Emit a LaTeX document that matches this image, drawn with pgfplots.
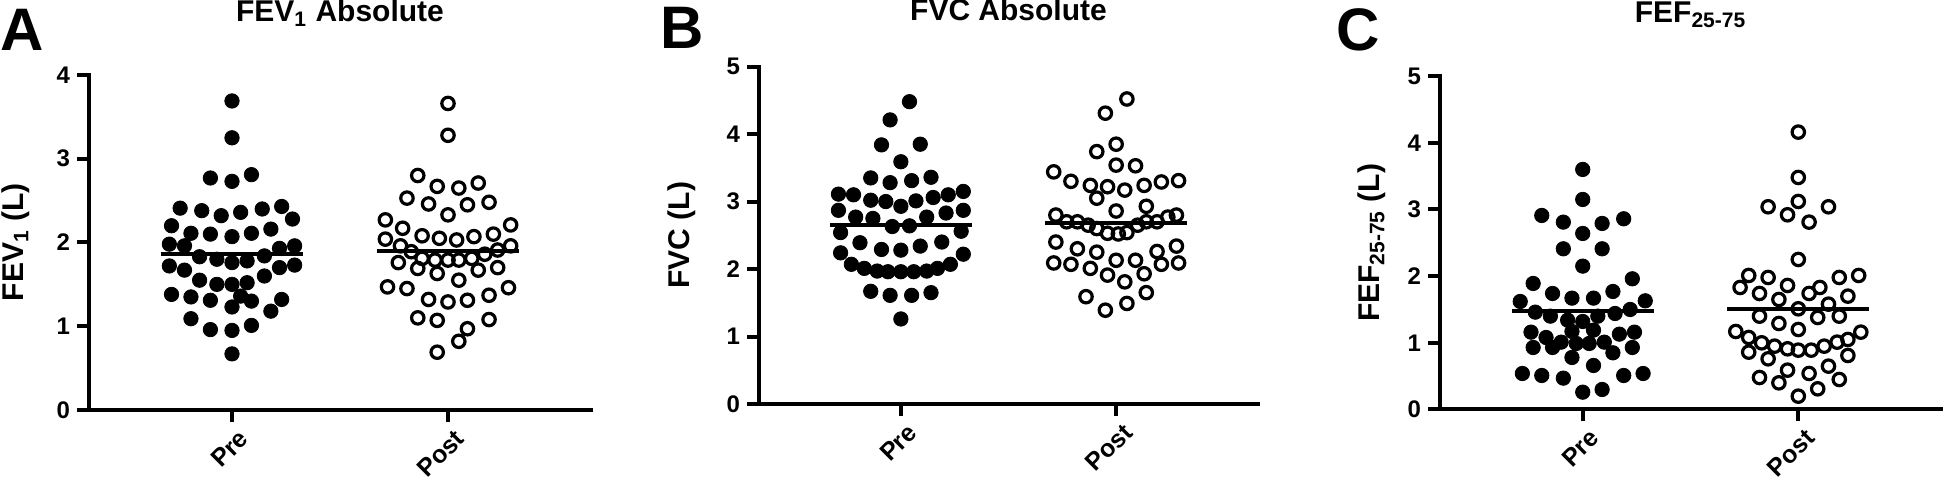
\documentclass[border=0pt]{standalone}
\usepackage{fontspec}
\setmainfont{Liberation Sans}
\usepackage{pgfplots}
\pgfplotsset{compat=1.18}
\newcommand{\fs}[1]{\bfseries\fontsize{#1}{#1}\selectfont}
\pgfplotsset{
  panel/.style={
    scale only axis, clip=false,
    axis x line*=bottom, axis y line*=left,
    axis line style={line width=2pt, line cap=rect},
    tick style={line width=2pt, black},
    major tick length=6pt, tick align=outside,
    xtick={0,1}, xticklabels={Pre,Post},
    /pgf/number format/assume math mode=true,
    x tick label style={rotate=45, anchor=north east, inner sep=1pt, yshift=-3pt, xshift=1pt, font=\fs{12.5}},
    y tick label style={font=\fs{12}},
    title style={font=\fs{15}, at={(axis description cs:0.5,1)}, anchor=base, inner sep=0pt},
    ylabel style={font=\fs{15}, anchor=center},
    ymin=0,
  },
  pre/.style={only marks, mark=*, mark size=3.6pt, black, mark options={line width=0.4pt, fill=black}},
  post/.style={only marks, mark=o, mark size=3.1pt, black, mark options={line width=1.6pt, fill=white}},
  mean/.style={no marks, line width=2pt, black},
}
\begin{document}
\begin{tikzpicture}
\path[use as bounding box] (0pt,0pt) rectangle (973pt,242.5pt);
\node[anchor=base west, font=\fs{30}, inner sep=0pt] at (0pt,217pt) {A};
\node[anchor=base west, font=\fs{30}, inner sep=0pt] at (330pt,218pt) {B};
\node[anchor=base west, font=\fs{30}, inner sep=0pt] at (668pt,217pt) {C};

% ---------------- Panel A
\begin{axis}[panel, at={(44.5pt,37.5pt)}, anchor=south west,
  width=251pt, height=167.5pt, xmin=-0.662, xmax=1.662, ymax=4, ytick={0,1,2,3,4},
  title={FEV\textsubscript{1} Absolute}, title style={yshift=20.5pt},
  ylabel={FEV\textsubscript{1} (L)}, ylabel style={at={(axis description cs:-0.145,0.5)}}]
\addplot[pre] coordinates {
(0,3.69) (0,3.25)
(-0.10,2.77) (0,2.73) (0.09,2.81)
(-0.24,2.41) (-0.14,2.38) (-0.05,2.32) (0.04,2.36) (0.14,2.40) (0.23,2.43)
(-0.28,2.20) (0.28,2.28)
(-0.19,2.11) (-0.10,2.10) (0,2.07) (0.09,2.11) (0.18,2.16)
(-0.29,1.98) (-0.22,1.96) (0.22,1.93) (0.29,1.96)
(-0.15,1.83) (-0.07,1.80) (0,1.76) (0.07,1.78) (0.15,1.84)
(-0.29,1.72) (-0.22,1.67) (0.22,1.70) (0.29,1.73)
(-0.15,1.55) (-0.07,1.50) (0,1.50) (0.07,1.52) (0.15,1.60)
(-0.28,1.38) (-0.19,1.35) (-0.10,1.31) (0.04,1.36) (0.09,1.30) (0,1.23) (0.18,1.18) (0.23,1.32)
(-0.19,1.09) (-0.10,0.96) (0,0.95) (0.09,1.01)
(0,0.67)
};
\addplot[post] coordinates {
(1,3.66) (1,3.28)
(0.86,2.80) (0.95,2.67) (1.05,2.65) (1.14,2.71)
(0.81,2.53) (0.91,2.46) (1.09,2.45) (1.19,2.48)
(1,2.33)
(0.71,2.27) (1.29,2.21)
(0.79,2.17) (0.88,2.08) (0.96,2.05) (1.04,2.03) (1.12,2.07) (1.21,2.10)
(0.71,2.04) (0.78,1.96) (0.83,1.89) (1.17,1.86) (1.23,1.91) (1.29,1.96)
(0.88,1.81) (0.94,1.79) (1,1.79) (1.05,1.79) (1.11,1.81)
(0.77,1.76) (0.86,1.69) (0.95,1.63) (1.05,1.55) (1.14,1.67) (1.23,1.70)
(0.72,1.47) (0.81,1.45) (1.28,1.46)
(0.91,1.32) (1,1.29) (1.09,1.31) (1.19,1.37)
(0.86,1.10) (0.95,1.07) (1.19,1.08)
(1.09,0.97) (1.05,0.82) (0.95,0.69)
};
\addplot[mean] coordinates {(-0.33,1.86) (0.33,1.86)};
\addplot[mean] coordinates {(0.67,1.90) (1.33,1.90)};
\end{axis}

% ---------------- Panel B
\begin{axis}[panel, at={(379.5pt,40.5pt)}, anchor=south west,
  width=249.5pt, height=168.7pt, xmin=-0.659, xmax=1.659, ymax=5, ytick={0,1,2,3,4,5},
  title={FVC Absolute}, title style={yshift=16.8pt},
  ylabel={FVC (L)}, ylabel style={at={(axis description cs:-0.154,0.5)}}]
\addplot[pre] coordinates {
(0.04,4.48) (-0.05,4.21)
(-0.09,3.84) (0.09,3.85)
(0,3.59)
(-0.14,3.35) (-0.05,3.28) (0.05,3.31) (0.14,3.36)
(-0.29,3.11) (-0.22,3.10) (-0.14,3.02) (-0.07,3.00) (0,2.93) (0.07,3.01) (0.15,3.06) (0.22,3.10) (0.29,3.15)
(-0.29,2.87) (0.29,2.87) (-0.21,2.77) (-0.13,2.75) (0.12,2.77) (0.21,2.83)
(-0.04,2.63) (0.04,2.64)
(-0.28,2.54) (0.28,2.56)
(-0.19,2.39) (-0.09,2.29) (0,2.28) (0.09,2.34) (0.19,2.40)
(-0.28,2.24) (0.29,2.22)
(-0.23,2.07) (-0.17,2.01) (-0.11,1.97) (-0.06,1.96) (0,1.96) (0.06,1.96) (0.12,1.97) (0.17,2.01) (0.23,2.07)
(-0.14,1.67) (-0.05,1.61) (0.05,1.61) (0.14,1.65)
(0,1.26)
};
\addplot[post] coordinates {
(1.05,4.52) (0.95,4.31)
(1,3.85) (0.91,3.74)
(1,3.54) (1.09,3.53)
(0.71,3.44)
(0.79,3.30) (0.88,3.24) (0.96,3.22) (1.04,3.17) (1.13,3.24) (1.21,3.29) (1.29,3.31)
(0.91,3.05)
(1,2.86) (1.14,2.93)
(0.72,2.80) (1.28,2.80) (1.24,2.77)
(0.77,2.70) (0.82,2.70) (0.87,2.65) (0.91,2.60) (0.96,2.53) (1.01,2.52) (1.05,2.54) (1.10,2.65) (1.14,2.70) (1.19,2.70)
(0.72,2.40) (0.82,2.30) (0.91,2.25) (1,2.13) (1.09,2.13) (1.19,2.26) (1.28,2.34)
(0.71,2.09) (0.79,2.07) (0.88,2.01) (1.21,2.07) (1.29,2.09)
(0.96,1.91) (1.04,1.81) (1.13,1.93)
(0.86,1.59) (1.14,1.65)
(1.05,1.49) (0.95,1.39)
};
\addplot[mean] coordinates {(-0.33,2.66) (0.33,2.66)};
\addplot[mean] coordinates {(0.67,2.68) (1.33,2.68)};
\end{axis}

% ---------------- Panel C
\begin{axis}[panel, at={(720pt,37.75pt)}, anchor=south west,
  width=250.5pt, height=166.7pt, xmin=-0.662, xmax=1.662, ymax=5, ytick={0,1,2,3,4,5},
  title={FEF\textsubscript{25-75}}, title style={yshift=20.9pt},
  ylabel={FEF\textsubscript{25-75} (L)}, ylabel style={at={(axis description cs:-0.136,0.5)}}]
\addplot[pre] coordinates {
(0,3.60) (0,3.15)
(-0.19,2.91) (-0.09,2.81) (0.09,2.79) (0.19,2.86)
(0,2.64)
(-0.09,2.41) (0.09,2.41)
(0,2.15)
(-0.23,1.89) (0.23,1.96)
(-0.14,1.74) (-0.05,1.67) (0.05,1.67) (0.14,1.77)
(-0.29,1.62) (0.29,1.63)
(-0.22,1.46) (-0.15,1.40) (-0.07,1.34) (0,1.32) (0.07,1.40) (0.15,1.44) (0.22,1.50)
(-0.24,1.16) (-0.17,1.08) (-0.05,1.17) (0.05,1.19) (0.17,1.13) (0.24,1.16)
(-0.23,0.93) (-0.14,0.93) (-0.10,1.01) (-0.03,0.99) (0.03,0.99) (0.10,1.01) (0.14,0.85) (0.23,0.93)
(-0.05,0.78) (0.05,0.66)
(-0.28,0.54) (-0.19,0.51) (-0.09,0.47) (0.19,0.51) (0.28,0.54)
(0,0.26) (0.09,0.30)
};
\addplot[post] coordinates {
(1,4.16)
(1,3.48)
(0.86,3.04) (1,3.12) (0.95,2.92) (1.05,2.81) (1.14,3.04)
(1,2.25)
(0.77,2.01) (0.86,1.98) (1.19,1.98) (1.28,2.01)
(0.73,1.83) (0.82,1.74) (0.95,1.86) (1.05,1.74) (1.10,1.83) (1.23,1.70)
(0.91,1.65) (1.14,1.58) (1,1.51)
(0.82,1.40) (0.91,1.29) (1,1.20) (1.09,1.38) (1.19,1.40)
(0.71,1.17) (0.77,1.08) (0.83,1.00) (0.89,0.95) (0.95,0.91) (1,0.89) (1.06,0.89) (1.12,0.95) (1.18,1.01) (1.23,1.05) (1.29,1.16)
(0.77,0.86) (0.86,0.76) (1.23,0.81)
(0.95,0.59) (1.05,0.54) (1.14,0.65)
(0.82,0.48) (0.91,0.40) (1.19,0.45)
(1.09,0.31) (1,0.20)
};
\addplot[mean] coordinates {(-0.33,1.47) (0.33,1.47)};
\addplot[mean] coordinates {(0.67,1.50) (1.33,1.50)};
\end{axis}
\end{tikzpicture}
\end{document}
